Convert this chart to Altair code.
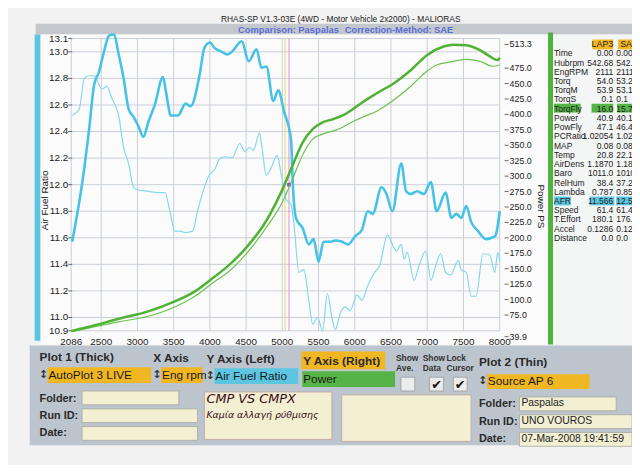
import altair as alt
import pandas as pd

# ---------------- data ----------------
rpm_afr_thick = [2100, 2243, 2334, 2402, 2470, 2538, 2606, 2674, 2742, 2810, 2878, 2946, 3014, 3082, 3150,
                 3240, 3353, 3394, 3462, 3557, 3666, 3734, 3856, 3924, 4000, 4063, 4168, 4236, 4304, 4440,
                 4535, 4644, 4712, 4780, 4875, 4943, 5024, 5120, 5147, 5188, 5283, 5365, 5432, 5500, 5568,
                 5663, 5731, 5826, 5908, 6003, 6098, 6179, 6247, 6370, 6437, 6519, 6641, 6709, 6777, 6859,
                 6954, 7049, 7130, 7253, 7334, 7402, 7470, 7538, 7606, 7701, 7810, 7932, 7960, 8000]
afr_thick = [11.57, 12.03, 12.42, 12.75, 12.85, 13.0, 13.12, 13.13, 12.98, 12.8, 12.57, 12.51, 12.44, 12.36, 12.47,
             12.6, 12.81, 12.7, 12.52, 12.52, 12.61, 12.59, 12.82, 13.03, 13.07, 13.03, 13.0, 12.98, 13.0, 13.08,
             12.93, 13.02, 12.88, 12.89, 12.63, 12.71, 12.55, 12.34, 11.98, 11.75, 11.67, 11.55, 11.59, 11.42, 11.57,
             11.57, 11.58, 11.57, 11.55, 11.61, 11.66, 11.8, 11.78, 11.98, 11.93, 11.8, 12.16, 11.95, 11.93, 11.95,
             11.93, 12.02, 11.8, 11.94, 11.75, 11.78, 11.75, 11.84, 11.72, 11.65, 11.59, 11.61, 11.65, 11.8]

rpm_afr_thin = [2100, 2198, 2266, 2334, 2402, 2511, 2579, 2647, 2742, 2810, 2878, 2946, 3014, 3150, 3285, 3380,
                3448, 3516, 3584, 3666, 3761, 3829, 3924, 4000, 4063, 4141, 4236, 4304, 4413, 4481, 4549, 4603,
                4685, 4712, 4780, 4848, 4929, 4984, 5052, 5120, 5161, 5229, 5297, 5365, 5419, 5487, 5555, 5622,
                5690, 5731, 5799, 5867, 5935, 6030, 6098, 6179, 6274, 6342, 6451, 6519, 6573, 6640, 6682, 6723,
                6818, 6886, 6981, 7049, 7117, 7185, 7253, 7321, 7429, 7470, 7538, 7606, 7674, 7769, 7864, 7932,
                7973, 8000]
afr_thin = [12.52, 12.57, 12.8, 12.82, 12.82, 12.72, 12.74, 12.65, 12.52, 12.28, 12.16, 11.98, 11.96, 11.95, 11.94, 11.94,
            11.8, 11.65, 11.65, 11.64, 11.65, 11.8, 11.98, 12.08, 12.11, 12.2, 12.21, 12.2, 12.31, 12.25, 12.28, 12.26,
            12.39, 12.31, 12.07, 12.13, 12.22, 12.08, 11.89, 11.85, 11.7, 11.34, 11.36, 11.13, 10.95, 11.0, 10.9, 11.18,
            10.98, 10.91, 11.03, 11.08, 11.05, 11.17, 11.13, 11.24, 11.34, 11.39, 11.62, 11.55, 11.5, 11.55, 11.44, 11.49,
            11.28, 11.39, 11.5, 11.28, 11.39, 11.48, 11.34, 11.32, 11.43, 11.36, 11.34, 11.16, 11.16, 11.48, 11.47, 11.34,
            11.49, 11.42]

rpm_pw_thick = [2086, 2334, 2742, 3150, 3516, 3788, 4063, 4236, 4508, 4780, 5011, 5147, 5283, 5419, 5555,
                5690, 5826, 6003, 6098, 6315, 6546, 6777, 6995, 7226, 7361, 7538, 7728, 7864, 7973, 8000]
pw_thick = [49, 56, 69, 81, 97, 113, 137, 153, 185, 228, 281, 319, 355, 376, 387,
            392, 398, 411, 419, 435, 451, 472, 496, 510, 513, 512, 504, 494, 488, 492]

rpm_pw_thin = [2086, 2742, 3150, 3516, 3788, 4063, 4236, 4508, 4780, 5011, 5147, 5283, 5419, 5555,
               5772, 6003, 6098, 6315, 6546, 6777, 6995, 7130, 7321, 7538, 7728, 7905, 8000]
pw_thin = [48, 64, 73, 88, 105, 129, 143, 175, 217, 260, 297, 335, 360, 368,
           376, 390, 395, 406, 424, 446, 470, 480, 485, 489, 486, 478, 480]

x_ticks = [2086, 2500, 3000, 3500, 4000, 4500, 5000, 5500, 6000, 6500, 7000, 7500, 8000]
afr_ticks = [10.9, 11.0, 11.2, 11.4, 11.6, 11.8, 12.0, 12.2, 12.4, 12.6, 12.8, 13.0, 13.1]
pw_ticks = [39.9, 75, 100, 125, 150, 175, 200, 225, 250, 275, 300, 325, 350, 375, 400, 425, 450, 475, 513.3]

cursor_rpm = [5038, 5092]
cursor_dot_rpm = [5092]
cursor_dot_afr = [12.0]

table_labels = ["Time", "Hubrpm", "EngRPM", "Torq", "TorqM", "TorqS", "TorqFly", "Power", "PowFly", "PCRatio",
                "MAP", "Temp", "AirDens", "Baro", "RelHum", "Lambda", "AFR", "Speed", "T.Effort", "Accel", "Distance"]
table_lap3 = ["0.00", "542.68", "2111", "54.0", "53.9", "0.1", "16.0", "40.9", "47.1", "1.02054",
              "0.08", "20.8", "1.1870", "1011.0", "38.4", "0.787", "11.566", "61.4", "180.1", "0.1286", "0.0"]
table_sa = ["0.00", "542.68", "2111", "53.2", "53.1", "0.1", "15.7", "40.1", "46.4", "1.02312",
            "0.08", "22.1", "1.1832", "1010.0", "37.2", "0.857", "12.555", "61.4", "176.5", "0.1265", "0.0"]

# ---------------- layout ----------------
OX, OY = 72, 36          # page position of plot origin
W, H = 434, 296
FONT = "Liberation Sans"
YEL, CYAN, GRN, BEIGE = "#f0b723", "#5cc6e2", "#55b445", "#f2efd3"
LBL = "#222222"

xscale = alt.Scale(domain=[2086, 8000], nice=False, zero=False)
afr_scale = alt.Scale(domain=[10.9, 13.1], nice=False, zero=False)
pw_scale = alt.Scale(domain=[39.9, 513.3], nice=False, zero=False, range=[302, 6])


def rect_layer(rows):
    df = pd.DataFrame([{"x0": a - OX, "y0": b - OY, "x1": c - OX, "y1": d - OY, "f": f, "s": s}
                       for a, b, c, d, f, s in rows])
    return alt.Chart(df).mark_rect(strokeWidth=0.8).encode(
        x=alt.X("x0:Q", scale=None, axis=None), x2="x1:Q",
        y=alt.Y("y0:Q", scale=None, axis=None), y2="y1:Q",
        fill=alt.Fill("f:N", scale=None), stroke=alt.Stroke("s:N", scale=None))


def text_layer(rows, **style):
    df = pd.DataFrame([{"x": a - OX, "y": b - OY, "t": t} for a, b, t in rows])
    st = dict(font=FONT, baseline="middle", align="left", color=LBL)
    st.update(style)
    return alt.Chart(df).mark_text(**st).encode(
        x=alt.X("x:Q", scale=None, axis=None), y=alt.Y("y:Q", scale=None, axis=None), text="t:N")


T = "transparent"
bg = rect_layer([
    (36, 21, 640, 32, "#c4c8cc", T),
    (35, 32, 41, 342, CYAN, T),
    (41, 32, 555, 346, "#fbfbfb", T),
    (555, 30, 560, 346, "#4db33d", T),
    (560, 32, 640, 346, "#f4f5f5", T),
    (30, 347, 640, 448, "#bcc5ce", T),
    (305, 353, 390, 371, YEL, T),
    (48, 369, 153, 385, YEL, T),
    (163, 369, 205, 385, YEL, T),
    (217, 370, 302, 386, CYAN, T),
    (306, 373, 400, 389, GRN, T),
    (406, 379, 420, 393, "#ececec", "#999999"),
    (435, 379, 449, 393, "#ececec", "#999999"),
    (459, 379, 473, 393, "#ececec", "#999999"),
    (493, 376, 597, 391, YEL, T),
    (83, 393, 181, 407, BEIGE, "#a8a8a0"),
    (83, 411, 200, 425, BEIGE, "#a8a8a0"),
    (83, 429, 200, 443, BEIGE, "#a8a8a0"),
    (207, 394, 336, 442, BEIGE, "#c0a0a0"),
    (346, 397, 477, 444, BEIGE, "#c0a0a0"),
    (526, 399, 624, 413, BEIGE, "#a8a8a0"),
    (526, 417, 640, 431, BEIGE, "#a8a8a0"),
    (526, 435, 640, 449, BEIGE, "#a8a8a0"),
    (600, 37, 621, 47, YEL, T),
    (626, 37, 640, 47, YEL, T),
    (561, 102, 588, 111, GRN, T),
    (599, 102, 621, 111, GRN, T),
    (625, 102, 640, 111, GRN, T),
    (561, 196, 578, 205, CYAN, T),
    (597, 196, 622, 205, CYAN, T),
    (624, 196, 640, 205, CYAN, T),
])

# ---------------- chart layers ----------------
GRID = "#c9ced6"
X = lambda f: alt.X(f, scale=xscale, axis=None)
YA = lambda f: alt.Y(f, scale=afr_scale, axis=None)
YP = lambda f: alt.Y(f, scale=pw_scale, axis=None)

xdf = pd.DataFrame({"rpm": x_ticks, "lab": [str(v) for v in x_ticks]})
adf = pd.DataFrame({"afr": afr_ticks, "lab": [f"{v:.1f}" for v in afr_ticks]})
pdf = pd.DataFrame({"pw": pw_ticks, "lab": [f"{v:.1f}" for v in pw_ticks]})

vgrid = alt.Chart(xdf).mark_rule(color=GRID, strokeWidth=1).encode(x=X("rpm:Q"))
hgrid = alt.Chart(adf).mark_rule(color=GRID, strokeWidth=1).encode(y=YA("afr:Q"))
xlabels = alt.Chart(xdf).mark_text(font=FONT, fontSize=10, color=LBL, baseline="middle").encode(
    x=X("rpm:Q"), y=alt.value(H + 11), text="lab:N")
aticks = alt.Chart(adf).mark_rule(color="#666666", strokeWidth=1).encode(
    y=YA("afr:Q"), x=alt.value(-3), x2=alt.value(1))
alabels = alt.Chart(adf).mark_text(font=FONT, fontSize=10, color=LBL, baseline="middle", align="right").encode(
    y=YA("afr:Q"), x=alt.value(-3), text="lab:N")
cur_y = alt.Chart(pd.DataFrame({"rpm": cursor_rpm[:1]})).mark_rule(color="#ecd070", strokeWidth=1).encode(
    x=X("rpm:Q"))
cur_p = alt.Chart(pd.DataFrame({"rpm": cursor_rpm[1:]})).mark_rule(color="#d890d8", strokeWidth=1).encode(
    x=X("rpm:Q"))

afr_thin_l = alt.Chart(pd.DataFrame({"rpm": rpm_afr_thin, "afr": afr_thin})).mark_line(
    color="#84d8ec", strokeWidth=1.2, interpolate="monotone").encode(x=X("rpm:Q"), y=YA("afr:Q"))
afr_thick_l = alt.Chart(pd.DataFrame({"rpm": rpm_afr_thick, "afr": afr_thick})).mark_line(
    color="#45c2e6", strokeWidth=2.6, interpolate="monotone").encode(x=X("rpm:Q"), y=YA("afr:Q"))
dot = alt.Chart(pd.DataFrame({"rpm": cursor_dot_rpm, "afr": cursor_dot_afr})).mark_point(
    filled=True, color="#9a40c8", size=14, shape="square", opacity=1).encode(x=X("rpm:Q"), y=YA("afr:Q"))

afr_layer = alt.layer(hgrid, vgrid, xlabels, aticks, alabels, cur_y, cur_p, afr_thin_l, afr_thick_l, dot)

pticks = alt.Chart(pdf).mark_rule(color="#666666", strokeWidth=1).encode(
    y=YP("pw:Q"), x=alt.value(W + 5), x2=alt.value(W + 9))
plabels = alt.Chart(pdf).mark_text(font=FONT, fontSize=9, color=LBL, baseline="middle", align="left").encode(
    y=YP("pw:Q"), x=alt.value(W + 10), text="lab:N")
pw_thin_l = alt.Chart(pd.DataFrame({"rpm": rpm_pw_thin, "pw": pw_thin})).mark_line(
    color="#6cc24e", strokeWidth=1.2, interpolate="monotone").encode(x=X("rpm:Q"), y=YP("pw:Q"))
pw_thick_l = alt.Chart(pd.DataFrame({"rpm": rpm_pw_thick, "pw": pw_thick})).mark_line(
    color="#4fb233", strokeWidth=2.5, interpolate="monotone").encode(x=X("rpm:Q"), y=YP("pw:Q"))
pw_layer = alt.layer(pticks, plabels, pw_thin_l, pw_thick_l)

# ---------------- texts ----------------
row_y = [51 + 9.35 * i for i in range(len(table_labels))]
texts = [
    text_layer([(345, 16, "RHAS-SP V1.3-03E  (4WD - Motor Vehicle 2x2000) - MALIORAS")],
               fontSize=8.5, align="center"),
    text_layer([(241, 27, "Comparison: Paspalas"), (349, 27, "Correction-Method: SAE")],
               fontSize=9.5, fontWeight="bold", color="#5a6ed8"),
    text_layer([(46, 200, "Air Fuel Ratio")], fontSize=10, align="center", angle=270),
    text_layer([(548, 206, "Power PS")], fontSize=10, align="center", angle=90),
    text_layer([(561, y, t) for y, t in zip(row_y, table_labels)], fontSize=8.6),
    text_layer([(621, y, t) for y, t in zip(row_y, table_lap3)], fontSize=8.6, align="right"),
    text_layer([(624, y, t) for y, t in zip(row_y, table_sa)], fontSize=8.6),
    text_layer([(610, 42, "LAP3")], fontSize=9, align="center"),
    text_layer([(628, 42, "SAE")], fontSize=9),
    text_layer([(40, 359, "Plot 1 (Thick)"), (155, 360, "X Axis"), (209, 361, "Y Axis (Left)"),
                (307, 363, "Y Axis (Right)"), (485, 364, "Plot 2 (Thin)")],
               fontSize=12, fontWeight="bold", color="#2a2a2a"),
    text_layer([(401, 360, "Show"), (401, 370, "Ave."), (428, 360, "Show"), (428, 370, "Data"),
                (452, 360, "Lock"), (452, 370, "Cursor")], fontSize=8.5, fontWeight="bold", color="#333333"),
    text_layer([(49, 377, "AutoPlot 3 LIVE"), (164, 377, "Eng rpm"), (218, 378, "Air Fuel Ratio"),
                (307, 381, "Power"), (494, 383, "Source AP 6")], fontSize=12, color="#1a1a1a"),
    text_layer([(44, 377, "↕"), (159, 377, "↕"), (213, 378, "↕"), (489, 383, "↕")],
               fontSize=11, align="center", font="DejaVu Sans", fontWeight="bold", color="#333333"),
    text_layer([(40, 401, "Folder:"), (40, 418, "Run ID:"), (40, 436, "Date:"),
                (485, 406, "Folder:"), (485, 424, "Run ID:"), (485, 442, "Date:")],
               fontSize=11, fontWeight="bold", color="#2a2a2a"),
    text_layer([(528, 405, "Paspalas"), (528, 423, "UNO VOUROS"), (528, 442, "07-Mar-2008  19:41:59")],
               fontSize=10.5, color="#222222"),
    text_layer([(209, 401, "CMP VS CMPX")], fontSize=13, fontStyle="italic", color="#3a0a18",
               font="DejaVu Sans"),
    text_layer([(209, 417, "Καμία αλλαγή ρύθμισης")], fontSize=9.5, fontStyle="italic", color="#3a0a18",
               font="DejaVu Sans"),
    text_layer([(442, 387, "✔"), (466, 387, "✔")], fontSize=13, align="center", font="DejaVu Sans",
               color="#111111"),
]

chart = alt.layer(bg, afr_layer, pw_layer, *texts).resolve_scale(y="independent").properties(
    width=W, height=H, autosize="none",
    padding={"left": 64, "top": 28, "right": 134, "bottom": 133},
    background="#f2f2f2",
).configure_view(stroke=None)

chart.save("out.html", embed_options={"renderer": "svg", "actions": False})
